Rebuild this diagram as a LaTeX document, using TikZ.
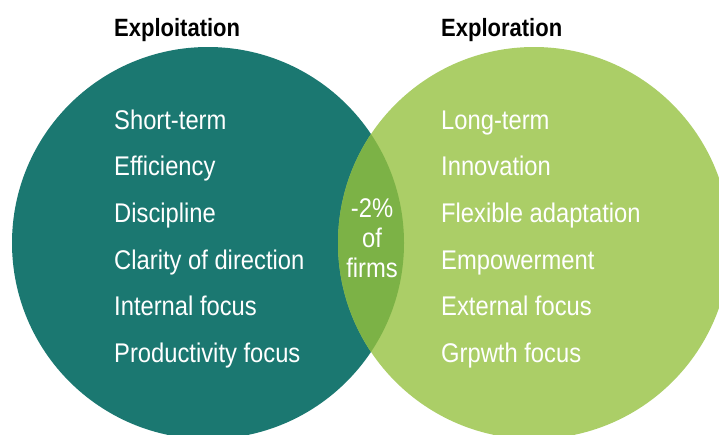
\documentclass[tikz,border=0pt]{standalone}
\usepackage{fontspec}
\setmainfont{Liberation Sans}[FakeStretch=0.88]
\definecolor{exploitteal}{RGB}{27,120,113}
\definecolor{explorelime}{RGB}{171,206,103}
\definecolor{overlapgreen}{RGB}{124,178,70}
\begin{document}
\begin{tikzpicture}[x=1pt,y=-1pt,
  heading/.style={anchor=base west,inner sep=0pt,text=black,font=\fontsize{25}{30}\selectfont\bfseries},
  item/.style={anchor=base west,inner sep=0pt,text=white,font=\fontsize{27}{30}\selectfont},
  share/.style={anchor=base,inner sep=0pt,text=white,font=\fontsize{27}{30}\selectfont}]
  \useasboundingbox (0,0) rectangle (719,434);
  \clip (0,0) rectangle (719,434);

  % set centres
  \coordinate (exploitc) at (208,243);
  \coordinate (explorec) at (534,243);

  % the two sets and their overlap
  \fill[exploitteal] (exploitc) circle[radius=196pt];
  \fill[explorelime] (explorec) circle[radius=196pt];
  \begin{scope}
    \clip (exploitc) circle[radius=196pt];
    \fill[overlapgreen] (explorec) circle[radius=196pt];
  \end{scope}

  % headings
  \node[heading] (hexploit) at (114,36.5) {Exploitation};
  \node[heading] (hexplore) at (441,36.5) {Exploration};

  % exploitation traits
  \node[item] (l1) at (114,129.3) {Short-term};
  \node[item] (l2) at (114,175.9) {Efficiency};
  \node[item] (l3) at (114,222.5) {Discipline};
  \node[item] (l4) at (114,269.1) {Clarity of direction};
  \node[item] (l5) at (114,315.7) {Internal focus};
  \node[item] (l6) at (114,362.3) {Productivity focus};

  % exploration traits
  \node[item] (r1) at (441,129.3) {Long-term};
  \node[item] (r2) at (441,175.9) {Innovation};
  \node[item] (r3) at (441,222.5) {Flexible adaptation};
  \node[item] (r4) at (441,269.1) {Empowerment};
  \node[item] (r5) at (441,315.7) {External focus};
  \node[item] (r6) at (441,362.3) {Grpwth focus};

  % overlap share
  \node[share] (s1) at (372,217) {-2\%};
  \node[share] (s2) at (372,247) {of};
  \node[share] (s3) at (372,277) {firms};
\end{tikzpicture}
\end{document}
